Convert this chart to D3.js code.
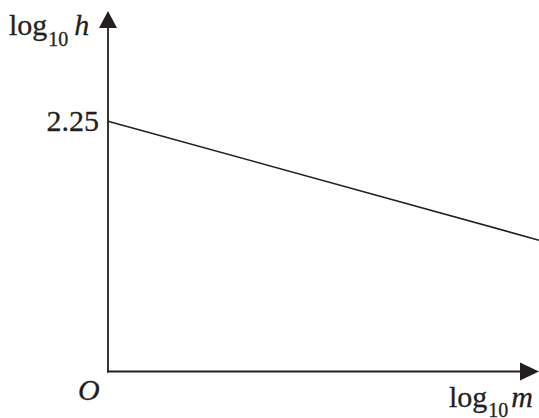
<!DOCTYPE html>
<html>
<head>
<meta charset="utf-8">
<script src="https://cdn.jsdelivr.net/npm/d3@7"></script>
<style>
  body { margin: 0; background: #fff; }
</style>
</head>
<body>
<div id="chart"></div>
<script>
const width = 539;
const height = 418;
const ink = "#231f20";
const serif = "Liberation Serif";

// graph of log10 h against log10 m
const lineM = [0, 4];
const lineH = [2.25, 1.18];
const yTicks = [2.25];
const xDomain = [0, 4];
const yDomain = [0, 3.24];

const x = d3.scaleLinear(xDomain, [108, 539]);
const y = d3.scaleLinear(yDomain, [371.5, 11]);

const svg = d3.select("#chart").append("svg")
  .attr("width", width)
  .attr("height", height);

// y axis with tick label only
svg.append("g")
  .attr("transform", `translate(${x(0)},0)`)
  .call(d3.axisLeft(y).tickValues(yTicks).tickSize(0).tickPadding(9).tickFormat(d3.format(".2f")))
  .call(g => g.select(".domain").remove())
  .call(g => g.attr("font-family", serif).attr("font-size", 30))
  .call(g => g.selectAll("text")
    .attr("fill", ink)
    .attr("stroke", ink)
    .attr("stroke-width", 0.3)
    .attr("dy", "0.32em"));

// axis lines
const axes = svg.append("g").attr("stroke", ink).attr("stroke-width", 1.8);
axes.append("line")
  .attr("x1", x(0)).attr("y1", y(0) + 0.9)
  .attr("x2", x(0)).attr("y2", y(yDomain[1]) + 14);
axes.append("line")
  .attr("x1", x(0) - 0.9).attr("y1", y(0))
  .attr("x2", x(xDomain[1]) - 14).attr("y2", y(0));

// arrow heads
svg.append("path")
  .attr("fill", ink)
  .attr("d", `M${x(0)},${y(yDomain[1])}L${x(0) - 9},${y(yDomain[1]) + 17}L${x(0) + 9},${y(yDomain[1]) + 17}Z`);
svg.append("path")
  .attr("fill", ink)
  .attr("d", `M${x(xDomain[1])},${y(0)}L${x(xDomain[1]) - 19},${y(0) - 9}L${x(xDomain[1]) - 19},${y(0) + 9}Z`);

// the line
const line = d3.line()
  .x((d, i) => x(lineM[i]))
  .y(d => y(d));
svg.append("path")
  .datum(lineH)
  .attr("fill", "none")
  .attr("stroke", ink)
  .attr("stroke-width", 1.6)
  .attr("d", line);

// axis labels
const label = (xPos, yPos) => svg.append("text").attr("x", xPos).attr("y", yPos)
  .attr("font-family", serif).attr("font-size", 30)
  .attr("fill", ink).attr("stroke", ink).attr("stroke-width", 0.3);

const yLabel = label(9, 35);
yLabel.append("tspan").text("log");
yLabel.append("tspan").attr("font-size", 20).attr("dy", 11).attr("dx", 1).text("10");
yLabel.append("tspan").attr("font-style", "italic").attr("dy", -11).attr("dx", 6).text("h");

const xLabel = label(449, 407);
xLabel.append("tspan").text("log");
xLabel.append("tspan").attr("font-size", 20).attr("dy", 10).attr("dx", 1).text("10");
xLabel.append("tspan").attr("font-style", "italic").attr("dy", -10).attr("dx", 3).text("m");

label(78, 400)
  .attr("font-style", "italic")
  .text("O");
</script>
</body>
</html>
